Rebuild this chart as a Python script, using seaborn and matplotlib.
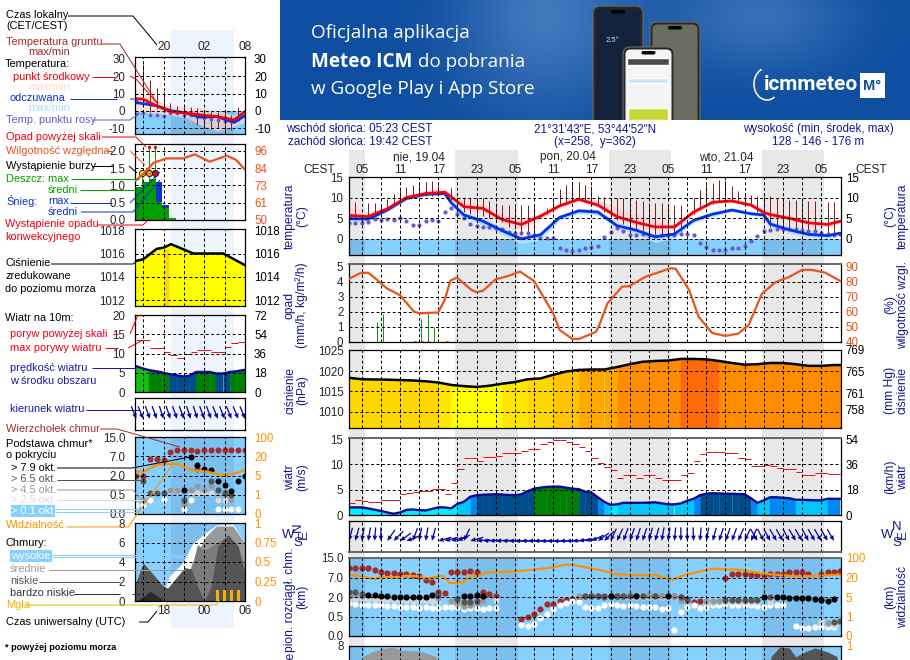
import numpy as np
import matplotlib
matplotlib.use("Agg")
import matplotlib.pyplot as plt
from matplotlib.patches import FancyBboxPatch, Rectangle, Arc
import seaborn as sns

sns.set_style("white")
plt.rcParams['font.family'] = ['Liberation Sans', 'DejaVu Sans']
plt.rcParams['font.size'] = 8.4
W, H = 910, 660

# ---------- main meteogram data (hours since 03:00 CEST, 19.04) ----------
t3 = [0,3,6,9,12,15,16,18,21,24,27,30,33,36,39,42,45,48,51,54,57,60,63,65,66,69,72,75,77]
temp_mid = [5.7,5.4,7.3,10,11,11.3,10.2,7.8,7.4,4.7,3.5,5.5,8,9.6,8.2,5.4,4,2.9,2.9,6.5,8.9,9.2,8.2,6.4,5.9,5,3.9,3.5,4.3]
temp_hi = [7.8,6.5,7.9,10.7,11.8,12.2,11,9.3,8.2,6,5,6.2,8.6,10.1,9.5,7.6,6,4.6,3.5,7,9.2,9.6,8.7,7.4,6.6,5.6,4.4,3.9,4.5]
temp_lo = [5,4.7,6.8,9.4,10.6,10.7,9.6,7,6.7,3.7,2.3,4.6,7.4,9,7.5,4.6,3.2,2,2.2,5.8,8.4,8.8,7.8,5.9,5.2,4.3,3.2,3,3.8]
feel_mid = [4.9,4.8,7,9.8,10.8,11,8.8,5.8,4.3,2,0,1,5.2,6.8,6.5,3.2,2.1,.5,1.2,4.5,6,7,6.1,5.8,3.6,2.2,1.1,.8,1.4]
feel_hi = [5.4,5.4,7.4,10.1,11.1,11.4,9.6,6.2,5,2.8,.7,1.5,5.7,7.4,7.2,3.9,2.7,1,1.6,5,6.6,7.4,6.5,6.2,4.4,2.9,1.7,1.2,1.8]
feel_lo = [4,4.2,6.6,9.4,10.4,10.6,8.2,5.2,3.4,1.1,-1.2,-.2,4.5,6.1,5.8,2.5,1.2,-.9,.3,3.9,5.4,6.6,5.7,5.3,3,1.4,.5,.1,1]
ground_max = [np.nan,8.9,np.nan,8.8,8.7,8,9.7,11,12,12.6,13,13.5,13.8,14,13.5,np.nan,12.3,10.2,10.2,9.8,9.8,9.8,9.3,8.7,8.3,8.3,8.3,8.3,8.3,8.3,np.nan,7.5,10,12,13,13.8,13.9,13,12.7,10.5,10.2,10,9.8,9.8,9.8,9.4,9.2,8.6,8.6,8.7,8.3,8.2,8.2,np.nan,10,11.8,13,13.6,14.2,14.2,12.8,11.6,10.6,10.6,10.3,10.3,10.3,9.8,9.7,9.5,9.4,9.4,9.3,9.2,np.nan,9,9]
ground_min = [np.nan,4.9,np.nan,5,5.5,6.3,7.5,8,9,10,10.3,10.5,10.4,10.5,10.5,np.nan,9.5,7,6.5,6,6,5.5,5,4.7,4,3,2.5,1,1,1.5,np.nan,6,7.5,8,8.5,9.2,9.5,9.5,9.2,8.5,6.5,5.5,4.5,3.5,3,2.5,2,1.5,1.2,.5,.8,1.2,2,np.nan,6,7,8,8.5,9,9.2,9,8.8,8.2,8,6.4,4,3,3,2.5,2.2,2,1.5,1,1,np.nan,1,.9]
dew = [3.8,3.9,3.9,4.1,4.8,4.6,4.8,4.5,5,4.3,3.3,3.3,4.3,4.6,4.3,6.4,7.5,6,5,3.5,3.1,3,3,2.7,2.3,1.7,1.4,1.5,1.5,1,.3,.2,.2,-2.3,-2.6,-2.9,-2.6,-2.2,-2,-1.8,.5,1.7,2.7,1.9,.9,1,1.2,1,.6,.9,1,1,1.3,1.2,.9,-1.1,-1.9,-2.7,-2.7,-2.6,-2.3,-2.1,-1.7,-.6,.8,1.9,2.1,2.5,2.5,2.3,2.3,2.1,1.9,1.9,1.5,1.2,1,1.2]

rh_t = [0,1.7,3,4.3,5.9,8,10.2,11.2,14,15,15.9,16.9,19.2,20,21,23,25,26.8,29,32,33,35,36,37.4,38.7,39.2,40.5,42.8,43.9,46.5,50.4,51.2,53.3,54.8,56.9,59,61,62.6,64.7,66.8,68.9,71,72.5,74.6,77]
rh = [81.8,85.5,86,81.6,75.6,71,60,59,59.6,68,80.7,82.7,74.5,73,74,81.6,83.8,86.7,80.4,59,48,42,42,44.4,46.7,51,65.6,76.7,77,83.3,88.9,88.5,74.5,56.7,46,44,45.6,51,72,79.6,83,87.8,87.8,86,80.4]
rain_t = [4.4,5.4,11.3,12.4,13.3]
rain = [1.33,1.84,1.55,2.07,1.0]
conv_t = [10.4,11.4,12.4,15.4]
conv = [0.0,0.0,0.0,0.0]

press_t = list(range(0,80,2))
press = [1018.35,1018,1017.95,1017.9,1017.8,1017.7,1017.5,1017.2,1016.6,1016.3,1016.1,1016.4,1016.9,1017.3,1018,1018.2,1019.1,1019.9,1020.3,1020.4,1020.4,1021,1021.7,1022.3,1022.5,1022.6,1023,1023,1022.9,1022.5,1022,1021.6,1021.7,1022,1022,1021.7,1021.3,1021.3,1021.5,1021.5]
press_cuts = [1016.7,1017.3,1018.6,1020.1,1020.6,1022.75]
press_cols = ['#FFFF00','#FFE600','#FFD700','#FFC400','#FFA800','#FF8C00','#FF6A08']

wind = [1.5,1.5,1.5,1.3,1.05,.8,.5,.25,.5,1,1.1,.95,.9,1.2,1.5,1.5,1.3,2.2,2.6,3.6,3.9,4,4.05,4.1,4.05,3.95,3.9,4.1,4.7,5.2,5.4,5.55,5.6,5.6,5.4,5.2,5.1,4.6,4.4,3.5,2.6,2,2.1,2.4,2.4,2.4,2.4,2.45,2.5,2.3,2.1,2.1,2.3,2.8,3.2,3.9,4.2,4.3,4.25,4.2,4.2,4.15,4.1,3.3,2.4,2.9,3.5,3.5,3.4,3.3,3,3,2.95,2.9,2.9,3.2,3.2,3.2]
gust = [2.4,2.9,2.75,2.5,2.6,2.95,2.95,2.95,4.2,4.35,4.5,4.7,4.7,5.05,5.2,4.1,6.25,9,11.3,11.3,10.7,11.4,11.4,11.7,12.2,12.2,12.2,12.6,13,13,14,14.5,14.8,14.8,14.5,14,13.4,12.7,11.3,10.2,9.5,8.8,7.4,7.8,7.8,7.4,7.8,7.8,7.4,7,7,7,7.8,8.2,10.6,12,12.4,12.4,12.4,12.2,12.2,11.2,11,9.6,9.6,9.8,9.6,9.2,9,9,8.5,7.8,7.8,8.2,8.2,8,8]
wind_cuts = [2.0,3.05,3.85,5.15,6.0]
wind_cols = ['#00EEFF','#00C8FF','#0088F0','#004C8C','#008000','#10C010']
heading = [195,195,190,190,185,180,215,225,235,250,200,190,190,195,255,255,255,245,205,255,265,268,268,268,270,270,270,270,270,270,272,272,272,270,270,268,262,258,245,235,225,205,205,200,200,198,198,195,195,190,188,185,180,180,178,185,190,195,198,200,200,203,205,205,150,152,152,150,150,152,150,150,152,150,150,150,150]

# cloud base panel: positions are read on the equally spaced axis labels
base_labels = ['0.0','0.5','2.0','7.0','15.0']
vis_labels = ['0','1','5','20','100']
top_h = [0,1,2,3,4,5,6,7,8,9,10,11,12,13,14,15,16,17,18,19,20,21,22,23,27,28,29,30,31,32,33,34,35,36,37,38,39,40,41,42,43,44,45,46,47,48,49,50,51,52,53,54,55,59,60,61,62,63,64,65,66,67,68,69,70,71,72,74,75,76,77]
top_lv = [3.47,3.49,3.49,3.47,3.4,3.26,3.24,3.24,3.2,3.18,3.14,3.09,2.85,2.75,2.25,2.2,3.3,3.3,3.3,3.35,3.3,2.27,2.13,2.04,.86,1,1.13,1.36,1.63,1.65,1.77,1.85,1.9,2,2.03,2.06,2.06,2.03,2.03,2.03,2.03,2.03,2.03,2.03,2.03,2.03,2.03,2.03,2.03,1.99,1.84,1.73,1.77,2.97,3.16,3.16,3.16,3.14,3.12,3.12,3.17,3.2,3.2,3.26,3.26,3.26,3.19,3.2,3.3,3.3,3.33]
white_h = [0,1,2,3,4,5,6,7,8,9,10,11,12,13,14,15,16,17,18,19,20,21,22,23,27,28,29,30,31,32,33,34,35,36,37,38,39,40,41,42,43,44,45,46,47,48,49,50,51,52,53,54,55,56,57,58,59,60,61,62,63,64,65,66,67,68,70,71,72,73,74,75,76]
white_lv = [1.68,1.65,1.61,1.6,1.6,1.58,1.53,1.53,1.51,1.51,1.51,1.42,1.47,1.42,1.42,1.51,1.51,1.51,1.37,1.42,1.42,1.39,1.42,1.42,.57,.53,.62,.91,1.13,1.37,1.6,1.68,1.77,1.72,1.51,1.42,1.42,1.6,1.62,1.58,1.55,1.58,1.53,1.51,1.49,1.49,1.37,1.42,.31,1.22,1.51,1.6,1.42,1.47,1.58,1.6,1.62,1.6,1.6,1.6,1.6,1.55,1.51,1.6,1.6,1.6,.53,.41,.41,.45,.45,.45,.45]
light_h = [0,1,2,3,4,5,6,7,8,9,10,11,12,13,14,16,17,18,19,21,23,44,45,46,47,48,49,50,52,56,57,58,59,60,61,62,63,64,66,74,75,76]
light_lv = [1.89,1.89,1.89,1.89,1.87,1.87,1.87,1.85,1.85,1.82,1.82,1.8,1.8,1.8,1.82,1.77,1.6,1.51,1.55,1.82,1.85,1.99,1.99,1.99,1.99,1.99,1.99,1.99,1.82,1.68,1.68,1.72,1.75,1.75,1.75,1.72,1.72,1.72,1.72,.72,.6,.57]
gray_h = [0,1,2,14,16,17,18,19,20,21,36,37,43,44,46,47,48,49,50,51,52,56,57,58,59,60,61,62,63,75]
gray_lv = [2.06,2.1,2.06,1.94,1.77,1.68,1.56,1.6,1.68,1.79,2.03,2.03,2.06,2.06,2.06,2.06,2.06,2.06,2.06,2.03,1.82,1.77,1.8,1.8,1.85,1.85,1.85,1.85,1.85,.65]
dark_h = [0,1,2,14,17,18,19,20,37,38,39,40,42,43,44,46,48,52,53,59,60,61,62,63,64,66,74,76,77]
dark_lv = [2.27,2.27,2.16,2.08,1.89,1.75,1.75,1.77,2.03,2.03,2.03,2.0,2.03,2.03,2.03,2.03,2.03,1.99,1.9,1.85,1.84,1.84,1.84,1.85,1.85,2.0,1.9,.72,.78]
black_h = [3,4,5,6,7,8,9,10,11,12,13,18,19,20,21,41,45,50,65,67,68,69,70,71,72,73,74,75,76]
black_lv = [2.09,2.09,2.06,2.04,2.02,2.0,2.0,1.98,1.98,1.98,2.08,2.03,2.03,2.08,2.03,2.03,2.03,2.03,2.0,1.98,1.98,1.96,1.96,1.96,1.96,1.9,1.87,1.8,1.9]
vis_t = [0,2,4,5,7.5,8.8,11.2,12,14.7,15.8,17.9,19.2,20,21.5,25.7,28.8,32,34,35,38.2,39.2,41.8,44.4,48,50.7,52.7,57,61,65.2,70.4,77]
vis_lv = [3.14,3.05,2.92,3.05,2.97,3.09,3.05,2.94,3.09,2.71,2.75,3.12,3.05,3.26,3.31,3.4,3.52,3.66,3.66,3.45,3.4,3.18,3.12,3.12,2.88,3.14,3.45,3.4,3.19,3.05,3.14]

cloud_t = [0,2.2,3.5,5,6.9,8,10,11,13.7]
mid_cloud = [0,6.9,7.4,7.7,7.9,7.6,7.5,7.5,6.9]
low_t = [66.1,67.5,69,70,71.5,73,75,76.5]
low_cloud = [6.9,7.9,7.8,6.9,7.4,7.8,7.4,6.9]

# ---------- left legend sample panels ----------
L_t = [0,1.2,3.2,5.2,7.6,9.6,12.1,14.6,16.2]
L_mid = [7.1,6.7,2.9,-.4,-1.3,-2.3,-3.3,-5.2,-.4]
L_feel = [4.8,4.2,2.9,.2,-1.3,-3.6,-3.3,-6.7,-2.7]
L_hi = [13,10,6,3.5,2.5,2,.5,-2.5,-.2]
L_lo = [0,-.8,-1.5,-2.5,-4,-8,-11.5,-9,-6]
L_gmax = [np.nan,27,18,13,11,4.5,3,2.2,2,1.5,.6,-.4,-.4,-.4,-2.3,2.5]
L_gmin = [np.nan,5,-.4,1,1,-.5,-1,-2,-2.5,-8,-10,-10.6,-10,-12.8,-11,-2.3]
L_dew = [-1.7,-1.3,-2.3,-2.3,-2.7,-1.3,-1.3,-2.3,-2.3,-3.6,-4.2,-4.8,-5.2,-5.6,-5.6,-4.8]
L_rh_t = [0,1.2,2.7,4.6,7.1,8.8,11,13.5,14.9,16.2]
L_rh = [76,80.5,88,91,91,93.7,88.8,92.8,90,83.5]
L_rain = [.96,1.1,1.18,.53,.34,.07]
L_snow = [0,0,0,.56,.09,0]
L_rain_top = [1.35,2.07,2.07]
L_press_t = [0,1.2,3.2,4.2,5.3,8.6,13,16.2]
L_press = [1015.35,1015.5,1016.4,1016.5,1016.8,1016,1016,1015]
L_wind_t = [0,1,2,3,4,5,6,7,8,9,10,11,12,13,14,15,16,16.2]
L_wind = [6.8,6.2,5.7,5.4,5.1,4.65,4.4,4.05,4.2,5.2,5.2,5.2,4.8,4.8,5.2,5.4,5.7,5.8]
L_gust = [13.5,13.5,11.55,11.3,10.5,9.65,8.8,9.9,10.3,10.8,10.8,10.5,10.5,11.6,12.7,12.9]
L_top = [2,2,2.87,2.87,2.78,3.23,3.33,3.33,3.33,3.25,3.33,3.33,3.33,3.33,3.33,3.33,3.33]
L_black_i = [7,8,9,10,11,12,13,14,15,16]
L_black = [1.26,2.97,2.53,2.36,2.26,1.69,1.49,1.2,1.69,1.97]
L_dark_i = [1,2,3,4,7,9,11,12,13,14]
L_dark = [1.69,1.09,1.09,1.09,.72,2.34,1.69,1.26,1.09,.97]
L_gray_i = [1,5,6,7,8,9,10,11,12,13,14]
L_gray = [.72,1.26,1.26,.51,1.26,1.45,1.26,1.45,1.26,1.03,.72]
L_light_i = [5,6,8,9,10,11,12,13,14]
L_light = [1.23,1.23,1.11,1.11,1.11,1.11,.72,.72,.72]
L_white_i = [0,1,2,4,7,8,10,12,13,14,15]
L_white = [.46,.46,.72,.77,.26,.72,1.11,.26,.26,.26,.26]
L_vis_t = [0,1.2,3.2,4.7,6.2,8.6,10.6,12.6,14.6,16.2]
L_vis = [2.21,2.19,2.55,2.6,2.6,2.26,2.21,2.03,2.09,2.29]
C_t = [0,4.2,5,7,8.4,10.4,12,14.4,16.2]
C_high = [0,.6,2.5,3.9,5.8,7,7.8,7.9,5.9]
C_med = [0,0,0,1.1,3.9,6.6,7.7,7.7,5.9]
C_sh_t = [0,1.2,4.2,4.8,7.3,8.3,9.2,10.2,11.2,12.2,13.7,15.2,16.2]
C_mid2 = [1.6,3.9,1.5,1.3,3.4,3.3,5.8,5.2,5.6,6,6.8,5.6,2.9]
C_dark = [1.6,3.9,1.5,1.3,3.4,3.3,1.5,0,1.5,5.6,6.8,5.6,2.9]
C_vl_t = [0,1.2,2.2,4.2,4.5]
C_vl = [0,.4,1,.1,0]
fog_i = [12,13,14,15]
fog = [.14,.14,.14,.14]

hour_labels_main = ['05','11','17','23','05','11','17','23','05','11','17','23','05']
hour_ticks_main = [2,8,14,20,26,32,38,44,50,56,62,68,74]
nights = [(0,2.5),(16.6,26.5),(40.75,50.5),(64.75,74.5)]
MX0, MX1 = 0, 77.1
LX0, LX1 = 0, 16.2
main_grid = np.arange(2, 77, 3)
left_grid = np.arange(1.2, 16.3, 3)

SKY = '#86D0FF'
NAVY = '#17178C'
ORANGE = '#FF9000'
RHCOL = '#E8541E'
TICK = 8.3
PX1 = .72

fig = plt.figure(figsize=(W/100, H/100), dpi=100, facecolor='white')

def axpx(l, t, r, b, **kw):
    a = fig.add_axes([l/W, 1-b/H, (r-l)/W, (b-t)/H], **kw)
    a.patch.set_visible(False)
    return a

# pixel overlay
px = axpx(0, 0, W, H, zorder=20)
px.set_xlim(0, W); px.set_ylim(H, 0); px.axis('off')

# band backgrounds
bgm = axpx(349, 150, 841, H, zorder=0)
bgm.set_xlim(MX0, MX1); bgm.set_ylim(0, 1); bgm.axis('off')
for a0, a1 in nights:
    bgm.axvspan(a0, a1, color='#E8E8E8', lw=0)
bgl = axpx(135, 30, 245, 628, zorder=0)
bgl.set_xlim(LX0, LX1); bgl.set_ylim(0, 1); bgl.axis('off')
bgl.axvspan(5.25, 14.55, color='#EDF4FE', lw=0)

DASH = (0, (3, 2.4))
def panel(l, t, r, b, xlim, ylim, yticks, ylabels, rticks=None, rlabels=None, rlim=None, rcolor='black', grid=None, pad=7, top_gray=False, bottom_gray=False):
    a = axpx(l, t, r, b, zorder=2)
    a.set_xlim(*xlim); a.set_ylim(*ylim)
    a.set_xticks([])
    a.set_yticks(yticks); a.set_yticklabels(ylabels)
    a.tick_params(axis='y', length=0, pad=pad, labelsize=TICK)
    for s in a.spines.values():
        s.set_visible(True); s.set_linewidth(.9); s.set_color('black'); s.set_zorder(30)
    if top_gray:
        a.spines['top'].set_color('#666666'); a.spines['top'].set_linewidth(1.4)
    if bottom_gray:
        a.spines['bottom'].set_color('#666666'); a.spines['bottom'].set_linewidth(1.4)
    r_ax = None
    if rticks is not None:
        r_ax = a.twinx()
        r_ax.patch.set_visible(False)
        r_ax.set_ylim(*(rlim if rlim else ylim))
        r_ax.set_yticks(rticks); r_ax.set_yticklabels(rlabels, color=rcolor)
        r_ax.tick_params(axis='y', length=0, pad=3.5 if l > 300 else 6.5, labelsize=TICK)
        for s in r_ax.spines.values():
            s.set_visible(False)
    return a, r_ax

def gridlines(a, xs, ys):
    for x in xs:
        a.axvline(x, color='black', lw=PX1, ls=DASH, zorder=15)
    for y in ys:
        a.axhline(y, color='black', lw=PX1, ls=DASH, zorder=15)

def line(a, x, y, color, lw, z=10):
    sns.lineplot(x=np.array(x, float), y=np.array(y, float), color=color, linewidth=lw, ax=a,
                 estimator=None, sort=False, legend=False, zorder=z, errorbar=None)
    a.set_xlabel(''); a.set_ylabel('')

def dots(a, x, y, color, d, z=9, ec='none'):
    sns.scatterplot(x=np.array(x, float), y=np.array(y, float), color=color, s=(d*.72)**2, ax=a,
                    linewidth=0, legend=False, zorder=z)
    a.set_xlabel(''); a.set_ylabel('')

def step_color(v, cuts, cols):
    return cols[int(np.searchsorted(cuts, v))]

def colored_fill(a, x, y, cuts, cols, base):
    for i in range(len(x)-1):
        c = step_color(y[i], cuts, cols)
        a.fill_between([x[i], x[i+1]], base, [y[i], y[i+1]], color=c, lw=.3, zorder=3)

def night_shade(a, spans):
    for s0, s1 in spans:
        a.axvspan(s0, s1, color='#1A3050', alpha=.10, lw=0, zorder=2)

# ---------- MAIN PANELS ----------
mx = (MX0, MX1)
# temperature
a, _ = panel(349, 177, 841, 255, mx, (-3.9, 15), [15,10,5,0], ['15','10','5','0'], [15,10,5,0], ['15','10','5','0'], pad=4)
a.axhspan(-3.9, 0, color=SKY, lw=0, zorder=1)
for s0, s1 in nights:
    a.fill_between([s0, s1], -3.9, 0, color='#1A3050', alpha=.12, lw=0, zorder=2)
a.fill_between(t3, temp_lo, temp_hi, color='#FFD0D0', alpha=.75, lw=0, zorder=3)
a.fill_between(t3, feel_lo, feel_hi, color='#B0E0FF', alpha=.9, lw=0, zorder=4)
hrs = np.arange(len(ground_max))
a.vlines(hrs, ground_min, ground_max, color='#8B1A1A', lw=PX1, zorder=6)
gridlines(a, main_grid, [10,5,0])
dots(a, np.arange(len(dew)), dew, '#6A5ACD', 4.2, z=7)
line(a, t3, feel_mid, '#0033EE', 2.0, 11)
line(a, t3, temp_mid, '#F00010', 2.0, 12)

# rain / humidity
a, r = panel(349, 264, 841, 342, mx, (0, 5.17), [5,4,3,2,1,0], ['5','4','3','2','1','0'],
             [90,80,70,60,50,40], ['90','80','70','60','50','40'], (40, 91.7), RHCOL, pad=4, top_gray=True)
gridlines(a, main_grid, [4,3,2,1])
a.vlines(rain_t, 0, rain, color='#00A000', lw=PX1, zorder=6)
dots(a, conv_t, conv, '#E02020', 3, z=16)
line(r, rh_t, rh, RHCOL, 1.6, 10)
r.set_yticks([90,80,70,60,50,40]); r.set_yticklabels(['90','80','70','60','50','40'], color=RHCOL)

# pressure
a, r = panel(349, 350, 841, 428, mx, (1006, 1025.2), [1025,1020,1015,1010], ['1025','1020','1015','1010'],
             [769,765,761,758], ['769','765','761','758'], (1006*.75006, 1025.2*.75006), pad=4)
colored_fill(a, press_t, press, press_cuts, press_cols, 1006)
gridlines(a, main_grid, [1020,1015,1010])
line(a, press_t, press, 'black', 1.8, 12)

# wind
a, r = panel(349, 438, 841, 515, mx, (0, 15.2), [15,10,5,0], ['15','10','5','0'],
             [54,36,18,0], ['54','36','18','0'], (0, 15.2*3.6), pad=4, top_gray=True)
wh = np.arange(len(wind))
colored_fill(a, wh, wind, wind_cuts, wind_cols, 0)
gridlines(a, main_grid, [10,5])
line(a, wh, wind, '#0A0A9A', 1.7, 12)
gh = np.arange(len(gust))
a.hlines(gust, gh, gh+1, color='#F01010', lw=PX1, zorder=13)

# direction
a, _ = panel(349, 521, 841, 552, mx, (0, 1), [], [], bottom_gray=True)
gridlines(a, main_grid, [])
hd = np.deg2rad(heading)
hh = np.arange(len(heading))
ARROW = 13.5
a.quiver(hh, np.full(len(hh), .36), ARROW*np.sin(hd), ARROW*np.cos(hd), angles='uv', scale_units='dots', scale=1,
         pivot='tip', units='dots', width=1.3, headwidth=3.6, headlength=4, headaxislength=4, color='#0A0AA0', zorder=10)

# cloud base
a, r = panel(349, 558, 841, 636, mx, (0, 4.0), [4,3,2,1,0], base_labels[::-1],
             [4,3,2,1,0], vis_labels[::-1], None, ORANGE, pad=4, top_gray=True)
a.axhspan(0, 4, color=SKY, lw=0, zorder=1)
night_shade(a, nights)
gridlines(a, main_grid, [3,2,1])
dots(a, top_h, top_lv, '#A52A2A', 6.2, z=7)
dots(a, white_h, white_lv, 'white', 6.2, z=8)
dots(a, light_h, light_lv, '#D8D8D8', 6.2, z=8.2)
dots(a, gray_h, gray_lv, '#999999', 6.2, z=8.4)
dots(a, dark_h, dark_lv, '#555555', 6.2, z=8.6)
dots(a, black_h, black_lv, 'black', 6.2, z=8.8)
line(a, vis_t, vis_lv, ORANGE, 1.6, 11)

# clouds (runs past the lower page edge)
a, r = panel(349, 646, 841, 724, mx, (0, 8), [8], ['8'], [8], ['1'], None, ORANGE, pad=4)
a.axhspan(0, 8, color=SKY, lw=0, zorder=1)
night_shade(a, nights)
a.fill_between(cloud_t, 0, mid_cloud, color='#999999', lw=0, zorder=3)
a.fill_between(low_t, 0, low_cloud, color='#555555', lw=0, zorder=4)
gridlines(a, main_grid, [6])

# ---------- LEFT PANELS ----------
lx = (LX0, LX1)
li = lambda v: np.array(v, float) + .2
# temp
a, _ = panel(135, 57, 245, 134, lx, (-13.3, 31), [30,20,10,0,-10], ['30','20','10','0','-10'], [30,20,10,0,-10], ['30','20','10','0','-10'])
a.axhspan(-13.3, 0, color=SKY, lw=0, zorder=1)
a.fill_between([5.25, 14.55], -13.3, 0, color='#1A3050', alpha=.12, lw=0, zorder=2)
a.fill_between(L_t, L_lo, L_hi, color='#FFD8C8', alpha=.7, lw=0, zorder=3)
a.vlines(li(np.arange(len(L_gmax))), L_gmin, L_gmax, color='#8B1A1A', lw=PX1, zorder=6)
gridlines(a, left_grid, [20,10,0,-10])
dots(a, li(np.arange(len(L_dew))), L_dew, '#6A5ACD', 3.8, z=7)
line(a, L_t, L_feel, '#0033EE', 2.0, 11)
line(a, L_t, L_mid, '#F00010', 2.0, 12)

# rain
a, r = panel(135, 144, 245, 220, lx, (0, 2.2), [2,1.5,1,.5,0], ['2.0','1.5','1.0','0.5','0.0'],
             [96,84.5,73,61.5,50], ['96','84','73','61','50'], (50, 100.6), RHCOL)
bi = np.arange(len(L_rain)) + .5
a.bar(bi, L_rain, width=1.02, color='#00A000', lw=0, zorder=4)
a.bar(bi, L_snow, bottom=L_rain, width=1.02, color='#1030D0', lw=0, zorder=4)
gridlines(a, left_grid, [2,1.5,1,.5])
tx = li([1,2,3])[:3] - .2
a.vlines(tx[:3], 0, L_rain_top, color='#00A000', lw=PX1, zorder=5)
dots(a, tx[1:], [2.1,2.1], '#E01010', 3.4, z=16)
for i, c in enumerate(['#FFE020', '#FF9000', '#E01010']):
    a.scatter([tx[i]], [1.35], s=20, color=c, edgecolors='black', linewidths=.6, zorder=17)
a.plot([.2, 4.2], [0.01, 0.01], color='#E01010', lw=1.2, ls=(0, (2, 2)), zorder=18)
line(r, L_rh_t, L_rh, RHCOL, 1.6, 10)
r.set_yticks([96,84.5,73,61.5,50]); r.set_yticklabels(['96','84','73','61','50'], color=RHCOL)

# pressure
a, r = panel(135, 229, 245, 306, lx, (1011.5, 1018.1), [1018,1016,1014,1012], ['1018','1016','1014','1012'],
             [1018,1016,1014,1012], ['1018','1016','1014','1012'], pad=7)
a.fill_between(L_press_t, 1011.5, L_press, color='#FFFF00', lw=0, zorder=3)
a.axvspan(4.35, 5.0, ymin=0, ymax=.74, color='#FFD400', lw=0, zorder=3.5)
gridlines(a, left_grid, [1016,1014,1012])
line(a, L_press_t, L_press, 'black', 1.8, 12)

# wind
a, r = panel(135, 315, 245, 392, lx, (0, 20), [20,15,10,5,0], ['20','15','10','5','0'],
             [72,54,36,18,0], ['72','54','36','18','0'], (0, 72))
colored_fill(a, L_wind_t, L_wind, [2.0,3.05,3.85,4.9,6.0], wind_cols, 0)
gridlines(a, left_grid, [15,10,5])
line(a, L_wind_t, L_wind, '#0A0A9A', 1.7, 12)
lg = np.arange(len(L_gust))
a.hlines(L_gust, lg+.2, lg+1.2, color='#F01010', lw=PX1, zorder=13)

# direction
a, _ = panel(135, 398, 245, 430, lx, (0, 1), [], [])
gridlines(a, left_grid, [])
lh = li(np.arange(17))
ld = np.deg2rad(np.array([158,158,160,160,162,162,160,160,162,162,160,160,158,158,158,158,158]))
a.quiver(lh, np.full(17, .35), ARROW*np.sin(ld), ARROW*np.cos(ld), angles='uv', scale_units='dots', scale=1,
         pivot='tip', units='dots', width=1.3, headwidth=3.6, headlength=4, headaxislength=4, color='#0A0AA0', zorder=10, clip_on=False)

# cloud base
a, r = panel(135, 437, 245, 514, lx, (0, 4.0), [4,3,2,1,0], base_labels[::-1],
             [4,3,2,1,0], vis_labels[::-1], None, ORANGE)
a.axhspan(0, 4, color=SKY, lw=0, zorder=1)
a.axvspan(5.25, 14.55, color='#1A3050', alpha=.10, lw=0, zorder=2)
gridlines(a, left_grid, [3,2,1])
dots(a, li(np.arange(len(L_top))), L_top, '#A52A2A', 6, z=7)
dots(a, li(L_white_i), L_white, 'white', 6, z=8)
dots(a, li(L_light_i), L_light, '#D8D8D8', 6, z=8.2)
dots(a, li(L_gray_i), L_gray, '#999999', 6, z=8.4)
dots(a, li(L_dark_i), L_dark, '#555555', 6, z=8.6)
dots(a, li(L_black_i), L_black, 'black', 6, z=8.8)
line(a, L_vis_t, L_vis, ORANGE, 1.6, 11)

# clouds
a, r = panel(135, 523, 245, 601, lx, (0, 8), [8,6,4,2,0], ['8','6','4','2','0'],
             [1,.75,.5,.25,0], ['1','0.75','0.5','0.25','0'], (0, 1), ORANGE)
a.axhspan(0, 8, color=SKY, lw=0, zorder=1)
a.axvspan(5.25, 14.55, color='#1A3050', alpha=.10, lw=0, zorder=2)
a.fill_between(C_t, 0, C_high, color='white', lw=0, zorder=3)
a.fill_between(C_t, 0, C_med, color='#9A9A9A', lw=0, zorder=4)
a.fill_between(C_sh_t, 0, C_mid2, color='#7C7C7C', lw=0, zorder=5)
a.fill_between(C_sh_t, 0, C_dark, color='#555555', lw=0, zorder=6)
a.fill_between(C_vl_t, 0, C_vl, color='#2A2A2A', lw=0, zorder=7)
gridlines(a, left_grid, [6,4,2])
r.bar(li(fog_i), fog, width=.4, color='#F8B000', lw=0, zorder=9)

# ---------- hour labels ----------
T = lambda x, y, s, **k: px.text(x, y, s, va=k.pop('va', 'center'), ha=k.pop('ha', 'left'), **k)
h2x = lambda h: 349 + (841-349)*h/MX1
for h, s in zip(hour_ticks_main, hour_labels_main):
    T(h2x(h), 170, s, ha='center', fontsize=8.6)
for x, s in zip([419, 568, 726], ['nie, 19.04', 'pon, 20.04', 'wto, 21.04']):
    T(x, 157, s, ha='center', fontsize=8.5)
T(303, 170, 'CEST', fontsize=8.6); T(855, 170, 'CEST', fontsize=8.6)
for x, s in zip([164,204,245], ['20','02','08']):
    T(x, 47, s, ha='center', fontsize=8.6)
for x, s in zip([164,204,245], ['18','00','06']):
    T(x, 611, s, ha='center', fontsize=8.6)

# header
HF = 8.4
T(286, 129, 'wschód słońca: 05:23 CEST', color=NAVY, fontsize=HF)
T(288, 142, 'zachód słońca: 19:42 CEST', color=NAVY, fontsize=HF)
T(595, 129, "21°31'43\"E, 53°44'52\"N", color=NAVY, ha='center', fontsize=HF)
T(595, 142, '(x=258,  y=362)', color=NAVY, ha='center', fontsize=HF)
T(818, 129, 'wysokość (min, środek, max)', color=NAVY, ha='center', fontsize=HF)
T(818, 142, '128 - 146 - 176 m', color=NAVY, ha='center', fontsize=HF)

# rotated axis titles
def R(x, y, s, **k):
    px.text(x, y, s, rotation=90, ha='center', va=k.pop('va', 'center'), color=NAVY, fontsize=8.7, **k)
for y, a1, a2 in [(216,'temperatura','(°C)'), (305,'opad','(mm/h, kg/m²/h)'), (390,'ciśnienie','(hPa)'), (477,'wiatr','(m/s)')]:
    R(290, y, a1); R(302, y, a2)
R(290, 600, 'pion. rozciągł. chm.'); R(302, 597, '(km)')
R(290, 652, 'zachmurzenie', va='top')
for y, a1, a2 in [(216,'temperatura','(°C)'), (305,'wilgotność wzgl.','(%)'), (390,'ciśnienie','(mm Hg)'), (477,'wiatr','(km/h)'), (597,'widzialność','(km)')]:
    R(903, y, a1); R(890, y, a2)

# compass roses
for x0, rot in [(0, 90), (599, 0)]:
    px.text(288+x0, 535, 'W', color=NAVY, ha='center', va='center', fontsize=9.5)
    px.text(298+x0, 527, 'N', color=NAVY, ha='center', va='center', fontsize=9.5, rotation=rot)
    px.text(304+x0, 535, 'E', color=NAVY, ha='center', va='center', fontsize=9.5, rotation=90)
    px.text(298+x0, 543, 'S', color=NAVY, ha='center', va='center', fontsize=9.5)

# ---------- legend texts ----------
BROWN = '#A52A2A'; RED = '#F00010'; GRN = '#00A000'; BLU = '#1030D0'; DBL = '#1A1AA0'; SLT = '#6A5ACD'
LF = 7.9
labels = [
 (6,15,'Czas lokalny','black'),(6,26,'(CET/CEST)','black'),
 (6,42,'Temperatura gruntu',BROWN),(28,52,'max/min',BROWN),
 (5,64,'Temperatura:','black'),(13,77,'punkt środkowy',RED),(28,87,'max/min','#FFD8C8'),
 (10,98,'odczuwana',BLU),(28,108,'max/min','#A8DCFF'),(6,120,'Temp. punktu rosy',SLT),
 (6,137,'Opad powyżej skali',RED),(6,151,'Wilgotność względna',RHCOL),(6,166,'Wystąpienie burzy','black'),
 (6,179,'Deszcz: max',GRN),(48,190,'średni',GRN),(6,201,'Śnieg:',BLU),(48,201,'max',BLU),(48,212,'średni',BLU),
 (5,224,'Wystąpienie opadu',RED),(5,237,'konwekcyjnego',RED),
 (5,263,'Ciśnienie','black'),(5,276,'zredukowane','black'),(5,289,'do poziomu morza','black'),
 (5,318,'Wiatr na 10m:','black'),(10,334,'poryw powyżej skali',RED),(10,348,'max porywy wiatru',RED),
 (10,368,'prędkość wiatru',DBL),(10,381,'w środku obszaru',DBL),(10,409,'kierunek wiatru',DBL),
 (6,429,'Wierzchołek chmur',BROWN),(6,444,'Podstawa chmur*','black'),(6,455,'o pokryciu','black'),
 (11,468,'> 7.9 okt.','black'),(11,479,'> 6.5 okt.','#555555'),(11,490,'> 4.5 okt.','#999999'),(11,500,'> 2.5 okt.','#DDDDDD'),
 (6,525,'Widzialność',ORANGE),(6,543,'Chmury:','black'),(10,569,'średnie','#999999'),(10,581,'niskie','#555555'),
 (10,593,'bardzo niskie','#333333'),(6,605,'Mgła','#F8B000'),(6,622,'Czas uniwersalny (UTC)','black'),
]
for x, y, s, c in labels:
    T(x, y, s, color=c, fontsize=LF)
px.add_patch(Rectangle((11,505), 44, 12, color=SKY, lw=0))
T(11, 511, '> 0.1 okt.', color='white', fontsize=LF)
px.add_patch(Rectangle((10,550), 42, 12, color=SKY, lw=0))
T(11, 556, 'wysokie', color='white', fontsize=LF)
T(5, 648, '* powyżej poziomu morza', color='black', fontsize=6.6, fontweight='bold')

# connector strokes
conn = [
 ('black',[(68,16),(133,16),(157,45)]),
 (BROWN,[(102,44),(120,44),(157,103)]),
 (RED,[(92,77),(115,77)]),(RED,[(130,76),(136,79),(157,103)]),
 (BLU,[(70,99),(117,99)]),(BLU,[(130,99),(135,99),(140,103)]),
 (SLT,[(93,120),(130,120),(140,113)]),
 (RED,[(102,137),(136,137),(146,147)]),
 (RHCOL,[(106,151),(112,151)]),(RHCOL,[(130,151),(145,165)]),
 ('black',[(92,166),(113,166)]),('black',[(129,166),(137,173)]),
 (GRN,[(71,179),(139,179)]),(GRN,[(80,190),(140,190)]),
 (BLU,[(70,203),(112,203)]),(BLU,[(130,203),(160,172)]),(BLU,[(81,212),(133,212),(160,180)]),
 (RED,[(97,225),(143,225),(147,221)]),
 ('black',[(51,264),(133,264),(136,262)]),
 (RED,[(113,334),(118,334)]),(RED,[(130,334),(138,315)]),
 (RED,[(105,348),(118,348)]),(RED,[(128,348),(143,340)]),
 (DBL,[(92,368),(136,368)]),(DBL,[(86,410),(140,410)]),
 (BROWN,[(100,429),(117,429),(180,447)]),
 ('black',[(57,468),(132,468),(190,457)]),
 ('#555555',[(57,480),(143,480)]),
 ('#999999',[(57,490),(133,490),(143,503)]),
 ('#DDDDDD',[(57,500),(143,500)]),
 (SKY,[(55,509),(136,509)]),(SKY,[(55,511.5),(136,511.5)]),
 (ORANGE,[(67,527),(128,527),(173,464)]),
 (SKY,[(52,555),(187,555)]),(SKY,[(52,557),(187,557)]),
 ('#999999',[(49,570),(184,570)]),
 ('#555555',[(39,582),(120,582)]),
 ('#333333',[(74,594),(120,594)]),('#333333',[(132,594),(140,594)]),
 ('#F8B000',[(26,605),(217,605),(219,600)]),
 ('black',[(139,622),(148,622),(157,611)]),
]
for c, pts in conn:
    xs, ys = zip(*pts)
    px.plot(xs, ys, color=c, lw=PX1, solid_capstyle='butt')

# ---------- banner ----------
ban = axpx(280, 0, W, 120, zorder=5)
gx, gy = np.meshgrid(np.linspace(280, W, 160), np.linspace(0, 120, 40))
glow = np.exp(-((gx-545)/85)**2 - ((gy-15)/90)**2) + .8*np.exp(-((gx-760)/90)**2 - ((gy-15)/55)**2)
base = np.array([0x0E,0x4E,0xA0])/255; lite = np.array([0x42,0x78,0xBC])/255
img = base[None,None,:] + np.clip(glow,0,1)[...,None]*(lite-base)
ban.imshow(img, extent=(280, W, 120, 0), aspect='auto', zorder=1)
ban.set_xlim(280, W); ban.set_ylim(120, 0); ban.axis('off')
def phone(x0, y0, x1, col, z):
    ban.add_patch(FancyBboxPatch((x0, y0), x1-x0, 140, boxstyle='round,pad=0,rounding_size=7', fc='#2A2A2A', ec='#6A6A6A', lw=.8, zorder=z))
    ban.add_patch(FancyBboxPatch((x0+2.5, y0+2.5), x1-x0-5, 140, boxstyle='round,pad=0,rounding_size=5', fc=col, ec='none', zorder=z))
    ban.add_patch(FancyBboxPatch(((x0+x1)/2-7, y0+4), 14, 3.5, boxstyle='round,pad=0,rounding_size=1.7', fc='black', ec='none', zorder=z))
phone(593, 6, 643, '#14233C', 2)
phone(650, 22, 700, '#6A6C60', 3)
phone(623, 47, 674, '#F4F4F4', 4)
ban.add_patch(Rectangle((627, 58), 42, 7, fc='#4A4A4A', zorder=5))
ban.add_patch(Rectangle((628, 78), 40, 5, fc='#C8E4F8', zorder=5))
ban.add_patch(Rectangle((628, 108), 40, 12, fc='#C8D838', zorder=5))
ban.text(612, 41, '2.5°', color='#C8D8F0', fontsize=5.5, ha='center', va='center', zorder=3)
ban.text(311, 33, 'Oficjalna aplikacja', color='white', fontsize=13.6, family='Open Sans', va='center', zorder=6)
ban.text(311, 62, 'Meteo ICM', color='white', fontsize=13.6, family='Open Sans', fontweight='bold', va='center', zorder=6)
ban.text(418, 62, 'do pobrania', color='white', fontsize=13.6, family='Open Sans', va='center', zorder=6)
ban.text(311, 89, 'w Google Play i App Store', color='white', fontsize=13.6, family='Open Sans', va='center', zorder=6)
ban.text(764, 85, 'icmmeteo', color='white', fontsize=15, fontweight='bold', family='Roboto', va='center', zorder=6)
ban.add_patch(Arc((767, 84), 26, 32, theta1=60, theta2=250, color='white', lw=1.1, zorder=6))
ban.add_patch(Rectangle((860, 73), 25, 25, fc='white', ec='none', zorder=6))
ban.text(872.5, 85.5, 'M°', color='#0E4EA0', fontsize=10.5, fontweight='bold', ha='center', va='center', zorder=7)

fig.savefig('out.png', dpi=100, facecolor='white')
